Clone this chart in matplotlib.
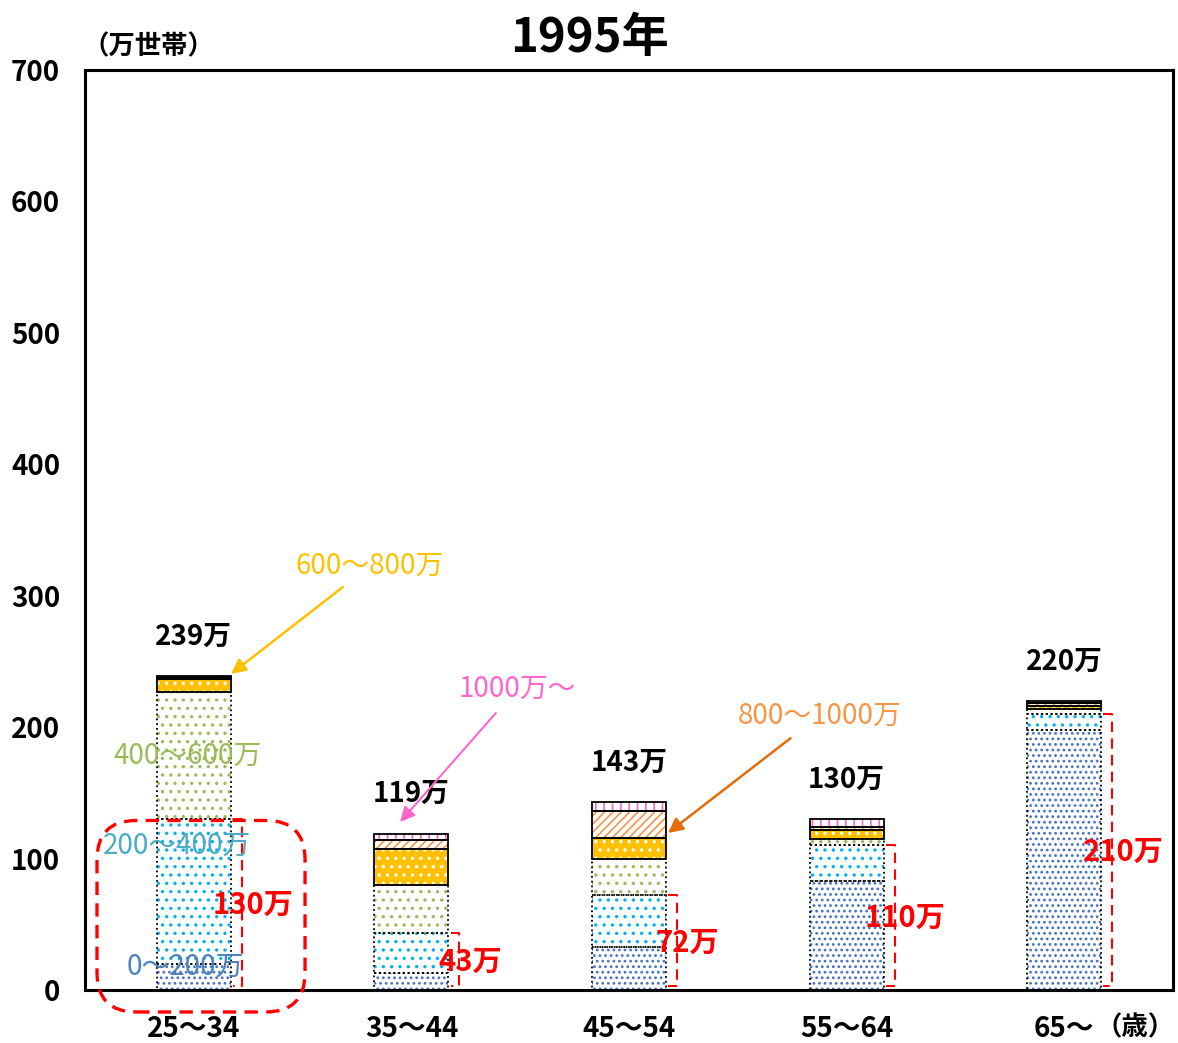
import matplotlib.pyplot as plt
from matplotlib.patches import FancyBboxPatch
import numpy as np

plt.rcParams['font.family'] = ['Noto Sans CJK JP', 'DejaVu Sans']
plt.rcParams['hatch.linewidth'] = 1.2

categories = ["25～34", "35～44", "45～54", "55～64", "65～"]
inc_0_200 = [20, 13, 33, 83, 198]
inc_200_400 = [110, 30, 39, 27, 12]
inc_400_600 = [97, 37, 28, 5, 4]
inc_600_800 = [10, 27, 16, 7, 2]
inc_800_1000 = [1.5, 7, 20, 2, 2]
inc_1000_plus = [0.5, 5, 7, 6, 2]
segment_names = ["0～200万", "200～400万", "400～600万", "600～800万", "800～1000万", "1000万～"]


def main():
    segments = [inc_0_200, inc_200_400, inc_400_600, inc_600_800, inc_800_1000, inc_1000_plus]
    # (face, hatch colour, hatch, edge linestyle)
    styles = [
        ("white", "#4472C4", "...", ":"),
        ("white", "#00B0F0", "..", ":"),
        ("white", "#9BBB59", "..", ":"),
        ("#FFC000", "white", "..", "-"),
        ("white", "#F79646", "////", "-"),
        ("white", "#FF66CC", "||", "-"),
    ]

    fig = plt.figure(figsize=(11.78, 10.43), dpi=100)
    ax = fig.add_axes([0.0722, 0.0508, 0.9236, 0.8821])

    x = np.arange(len(categories))
    width = 0.34
    bottom = np.zeros(len(categories))
    for vals, (face, hcol, hatch, ls) in zip(segments, styles):
        vals = np.array(vals, dtype=float)
        ax.bar(x, vals, width, bottom=bottom, color=face, edgecolor=hcol,
               hatch=hatch, linewidth=0, zorder=2)
        ax.bar(x, vals, width, bottom=bottom, fill=False, edgecolor="black",
               linewidth=1.3, linestyle=ls, zorder=3)
        bottom += vals

    totals = bottom
    for xi, t in zip(x, totals):
        ax.text(xi, t + 30, f"{int(round(t))}万", ha="center", va="center",
                fontsize=20, fontweight="bold")

    # red brackets for households under 400万
    low = np.array(inc_0_200) + np.array(inc_200_400)
    for xi, lv in zip(x, low):
        bx = xi + 0.22
        ax.plot([bx - 0.04, bx, bx, bx - 0.04], [lv, lv, 3, 3], color="red",
                linestyle=(0, (5, 3)), linewidth=1.5, zorder=4)
        ax.text(xi + 0.27, lv / 2, f"{int(round(lv))}万", ha="center", va="center",
                color="red", fontsize=21, fontweight="bold", zorder=5)

    # category labels
    ax.text(-0.04, 17.5, segment_names[0], color="#4F81BD", fontsize=20,
            ha="center", va="center", zorder=5)
    ax.text(-0.077, 109.6, segment_names[1], color="#4BACC6", fontsize=20,
            ha="center", va="center", zorder=5)
    ax.text(-0.027, 178, segment_names[2], color="#9BBB59", fontsize=20,
            ha="center", va="center", zorder=5)
    ax.annotate(segment_names[3], xy=(0.171, 240.5), xytext=(0.81, 322.7),
                color="#FFC000", fontsize=20, ha="center", va="center",
                arrowprops=dict(arrowstyle="-|>", color="#FFC000", lw=1.8,
                                mutation_scale=22, shrinkA=4, shrinkB=0))
    ax.annotate(segment_names[4], xy=(2.179, 119.5), xytext=(2.878, 209),
                color="#F79646", fontsize=20, ha="center", va="center",
                arrowprops=dict(arrowstyle="-|>", color="#E46C0A", lw=1.8,
                                mutation_scale=22, shrinkA=6, shrinkB=0))
    ax.annotate(segment_names[5], xy=(0.948, 127.9), xytext=(1.485, 229),
                color="#FF66CC", fontsize=20, ha="center", va="center",
                arrowprops=dict(arrowstyle="-|>", color="#FF66CC", lw=1.5,
                                mutation_scale=22, shrinkA=6, shrinkB=0))

    # dashed rounded box around the first bar's lower part
    box = FancyBboxPatch((-0.445, -16.7), 0.956, 145.7,
                         boxstyle="round,pad=0,rounding_size=0.18",
                         mutation_aspect=165.6, fill=False, edgecolor="red",
                         linestyle=(0, (4, 2.5)), linewidth=2.4, clip_on=False,
                         zorder=6)
    ax.add_patch(box)

    ax.set_xlim(-0.5, 4.5)
    ax.set_ylim(0, 700)
    ax.set_yticks(np.arange(0, 701, 100))
    ax.set_xticks(x)
    ax.set_xticklabels(categories)
    ax.tick_params(axis="both", length=0, labelsize=20)
    ax.tick_params(axis="y", pad=18)
    ax.tick_params(axis="x", pad=18)
    for lab in ax.get_xticklabels() + ax.get_yticklabels():
        lab.set_fontweight("bold")
    for sp in ax.spines.values():
        sp.set_linewidth(2.2)

    fig.text(0.5008, 0.9636, "1995年", ha="center", va="center",
             fontsize=34, fontweight="bold")
    fig.text(0.07, 0.955, "（万世帯）", ha="left", va="center",
             fontsize=19, fontweight="bold")
    fig.text(0.997, 0.0144, "（歳）", ha="right", va="center",
             fontsize=19, fontweight="bold")

    fig.savefig("out.png", dpi=100)
    plt.close(fig)


if __name__ == "__main__":
    main()
